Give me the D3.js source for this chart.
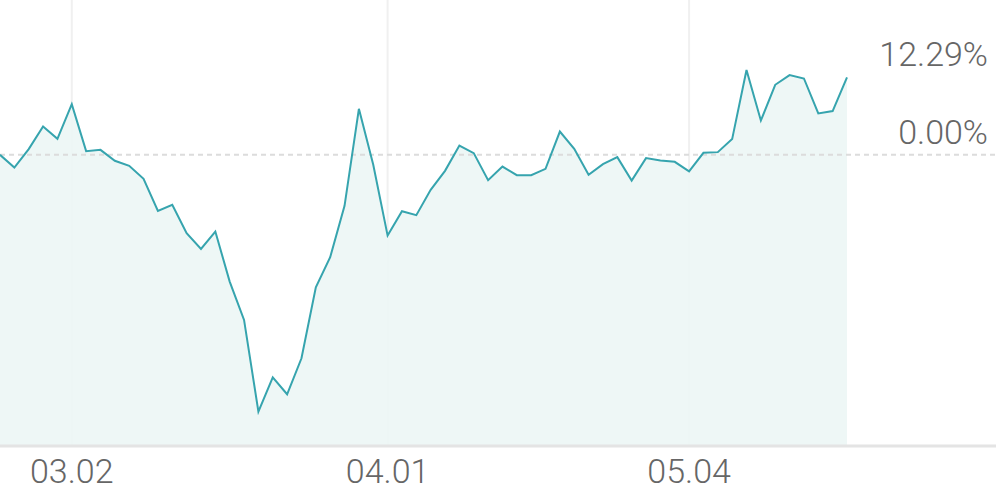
<!DOCTYPE html>
<html><head><meta charset="utf-8">
<script src="https://cdn.jsdelivr.net/npm/d3@7"></script>
<style>html,body{margin:0;padding:0;background:#fff;}svg{display:block;}</style>
</head><body>
<svg id="c" width="996" height="490"></svg>
<script>
const dates = ["02.24","02.25","02.26","02.27","02.28",
"03.02","03.03","03.04","03.05","03.06","03.09","03.10","03.11","03.12","03.13",
"03.16","03.17","03.18","03.19","03.20","03.23","03.24","03.25","03.26","03.27",
"03.30","03.31","04.01","04.02","04.03","04.06","04.07","04.08","04.09","04.10",
"04.13","04.14","04.15","04.16","04.17","04.20","04.21","04.22","04.23","04.24",
"04.27","04.28","04.29","05.04","05.06","05.07","05.08","05.11","05.12","05.13",
"05.14","05.15","05.18","05.19","05.20"];
const returns = [0,-2.02,0.91,4.50,2.54,8.06,0.59,0.79,-0.95,-1.75,
-3.82,-8.90,-7.95,-12.45,-14.94,-12.19,-20.14,-26.23,-40.81,-35.34,
-38.04,-32.32,-21.03,-16.26,-8.11,7.31,-1.59,-12.83,-8.95,-9.59,
-5.56,-2.54,1.48,0.27,-4.02,-1.86,-3.23,-3.23,-2.23,3.70,
0.95,-3.18,-1.48,-0.37,-4.09,-0.52,-0.91,-1.11,-2.62,0.32,
0.43,2.50,13.47,5.45,11.13,12.67,12.13,6.57,6.95,12.29];
const tickLabels = ["03.02","04.01","05.04"];
const refLevels = [12.29, 0];

const svg = d3.select("#c");
const W = 996, H = 490, plotW = 847, base = 445;
const x = d3.scalePoint().domain(dates).range([0, plotW]);
const y = d3.scaleLinear().domain([-46.1, 24.6]).range([base, 0]);
const font = "Roboto, 'Noto Sans', sans-serif";

// vertical gridlines
svg.append("g").selectAll("line").data(tickLabels).join("line")
  .attr("x1", d => x(d)).attr("x2", d => x(d))
  .attr("y1", 0).attr("y2", base)
  .attr("stroke", "#f0f0f0").attr("stroke-width", 2);

// area
const idx = d3.range(dates.length);
svg.append("path").datum(idx)
  .attr("fill", "#ecf6f5").attr("fill-opacity", 0.9)
  .attr("d", d3.area().x(i => x(dates[i])).y0(base).y1(i => y(returns[i])));

// zero dashed line
svg.append("line").attr("x1", 0).attr("x2", W)
  .attr("y1", y(0)).attr("y2", y(0))
  .attr("stroke", "#dcdcdc").attr("stroke-width", 2).attr("stroke-dasharray", "5,4");

// line
svg.append("path").datum(idx)
  .attr("fill", "none").attr("stroke", "#36a4ae").attr("stroke-width", 2)
  .attr("stroke-linejoin", "miter")
  .attr("d", d3.line().x(i => x(dates[i])).y(i => y(returns[i])));

// x axis baseline
svg.append("line").attr("x1", 0).attr("x2", W)
  .attr("y1", base + 1).attr("y2", base + 1)
  .attr("stroke", "#e4e4e4").attr("stroke-width", 3);

// x tick labels
svg.append("g").selectAll("text").data(tickLabels).join("text")
  .attr("x", d => x(d)).attr("y", 483)
  .attr("text-anchor", "middle")
  .attr("font-family", font).attr("font-weight", 300).attr("font-size", 34)
  .attr("fill", "#666").text(d => d);

// right labels
svg.append("g").selectAll("text").data(refLevels).join("text")
  .attr("x", 988).attr("y", d => y(d) - 11)
  .attr("text-anchor", "end")
  .attr("font-family", font).attr("font-weight", 300).attr("font-size", 34)
  .attr("fill", "#666").text(d => d.toFixed(2) + "%");
</script>
</body></html>
